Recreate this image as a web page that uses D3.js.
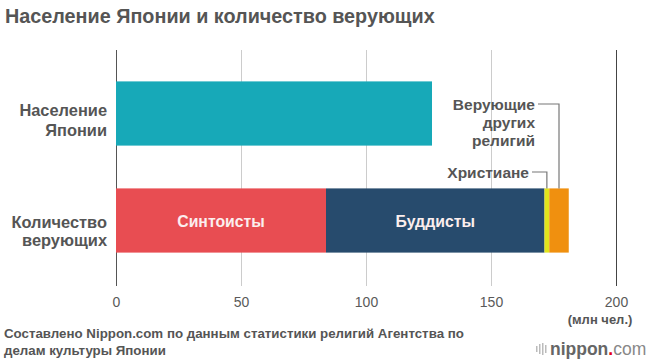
<!DOCTYPE html>
<html><head><meta charset="utf-8">
<script src="https://cdn.jsdelivr.net/npm/d3@7"></script>
<style>
body{margin:0;background:#fff;}
text{font-family:"Liberation Sans",Arial,sans-serif;}
</style></head>
<body>
<svg id="c" width="650" height="360"></svg>
<script>
const categories = ["Население Японии", "Количество верующих"];
const categoryLines = [["Население", "Японии"], ["Количество", "верующих"]];
const population = [126.4];
const segments = ["Синтоисты", "Буддисты", "Христиане", "Верующие других религий"];
const believers = [84.0, 87.4, 1.9, 7.8];
const tickValues = [0, 50, 100, 150, 200];
const colors = ["#e84d52", "#274b6d", "#e2e51c", "#f0900f"];

const svg = d3.select("#c");
const x = d3.scaleLinear().domain([0, 200]).range([116, 616]);
const y = d3.scaleBand().domain(categories).range([60, 274]).paddingInner(0.4).paddingOuter(0.2);

// title
svg.append("text").attr("x", 5).attr("y", 23).attr("font-size", 19.8).attr("font-weight", "bold")
  .attr("fill", "#555").text("Население Японии и количество верующих");

// axis + grid
const ax = svg.append("g").attr("transform", "translate(0,286)")
  .call(d3.axisBottom(x).tickValues(tickValues).tickSize(-236).tickPadding(11));
ax.select(".domain").remove();
ax.selectAll(".tick line").attr("stroke", (d) => d === 0 ? "#555" : d === 200 ? "#444" : "#ccc").attr("stroke-width", 1);
ax.selectAll(".tick text").attr("font-size", 14).attr("fill", "#5a5a5a").attr("font-family", "Liberation Sans, Arial, sans-serif");

svg.append("text").attr("x", 600).attr("y", 324).attr("text-anchor", "middle").attr("font-size", 13)
  .attr("font-weight", "bold").attr("fill", "#555").text("(млн чел.)");

// population bar
svg.append("rect").attr("x", x(0)).attr("y", y(categories[0]))
  .attr("width", x(population[0]) - x(0)).attr("height", y.bandwidth()).attr("fill", "#17a9b8");

// stacked believers
let cum = 0;
const stack = believers.map((v, i) => { const s = {name: segments[i], x0: cum, x1: cum + v, i}; cum += v; return s; });
svg.selectAll("rect.seg").data(stack).join("rect").attr("class", "seg")
  .attr("x", d => x(d.x0)).attr("y", y(categories[1]))
  .attr("width", d => x(d.x1) - x(d.x0)).attr("height", y.bandwidth()).attr("fill", d => colors[d.i]);

// inner labels
stack.slice(0, 2).forEach(d => {
  svg.append("text").attr("x", (x(d.x0) + x(d.x1)) / 2).attr("y", y(categories[1]) + y.bandwidth() / 2 + 6)
    .attr("text-anchor", "middle").attr("font-size", 15.8).attr("font-weight", "bold").attr("fill", "#fbeeee").text(d.name);
});

// category labels
const labOff = [[110, 130], [222, 240]];
categoryLines.forEach((lines, i) => {
  lines.forEach((t, j) => {
    svg.append("text").attr("x", 107).attr("y", labOff[i][j] + 6).attr("text-anchor", "end")
      .attr("font-size", 16.4).attr("font-weight", "bold").attr("fill", "#555").text(t);
  });
});

// annotations
const barTop = y(categories[1]);
const oth = stack[3], chr = stack[2];
const oxm = (x(oth.x0) + x(oth.x1)) / 2, cxm = (x(chr.x0) + x(chr.x1)) / 2;
svg.append("path").attr("d", `M538,104H${oxm}V${barTop}`).attr("fill", "none").attr("stroke", "#777").attr("stroke-width", 1.2);
svg.append("path").attr("d", `M532,172H${cxm}V${barTop}`).attr("fill", "none").attr("stroke", "#777").attr("stroke-width", 1.2);
["Верующие", "других", "религий"].forEach((t, j) => {
  svg.append("text").attr("x", 535).attr("y", 109.5 + j * 18).attr("text-anchor", "end").attr("font-size", 15.5)
    .attr("font-weight", "bold").attr("fill", "#555").text(t);
});
svg.append("text").attr("x", 529).attr("y", 177.5).attr("text-anchor", "end").attr("font-size", 15.5)
  .attr("font-weight", "bold").attr("fill", "#555").text(chr.name);

// footer
svg.append("text").attr("x", 4).attr("y", 338).attr("font-size", 13.3).attr("font-weight", "bold").attr("fill", "#555")
  .text("Составлено Nippon.com по данным статистики религий Агентства по");
svg.append("text").attr("x", 4).attr("y", 355).attr("font-size", 13.3).attr("font-weight", "bold").attr("fill", "#555")
  .text("делам культуры Японии");

// logo
const lg = svg.append("g");
[0, 3, 6, 9].forEach((dx, k) => {
  const h = [6, 10, 12, 8][k];
  lg.append("rect").attr("x", 536 + dx).attr("y", 349 - h / 2).attr("width", 1.5).attr("height", h).attr("fill", "#bbb");
});
const lt = lg.append("text").attr("x", 550).attr("y", 355).attr("font-size", 17.5).attr("font-family", "Liberation Sans, Arial, sans-serif");
lt.append("tspan").attr("font-weight", "bold").attr("fill", "#666").text("nippon");
lt.append("tspan").attr("font-weight", "bold").attr("fill", "#e60012").text(".");
lt.append("tspan").attr("fill", "#888").text("com");
</script>
</body></html>
